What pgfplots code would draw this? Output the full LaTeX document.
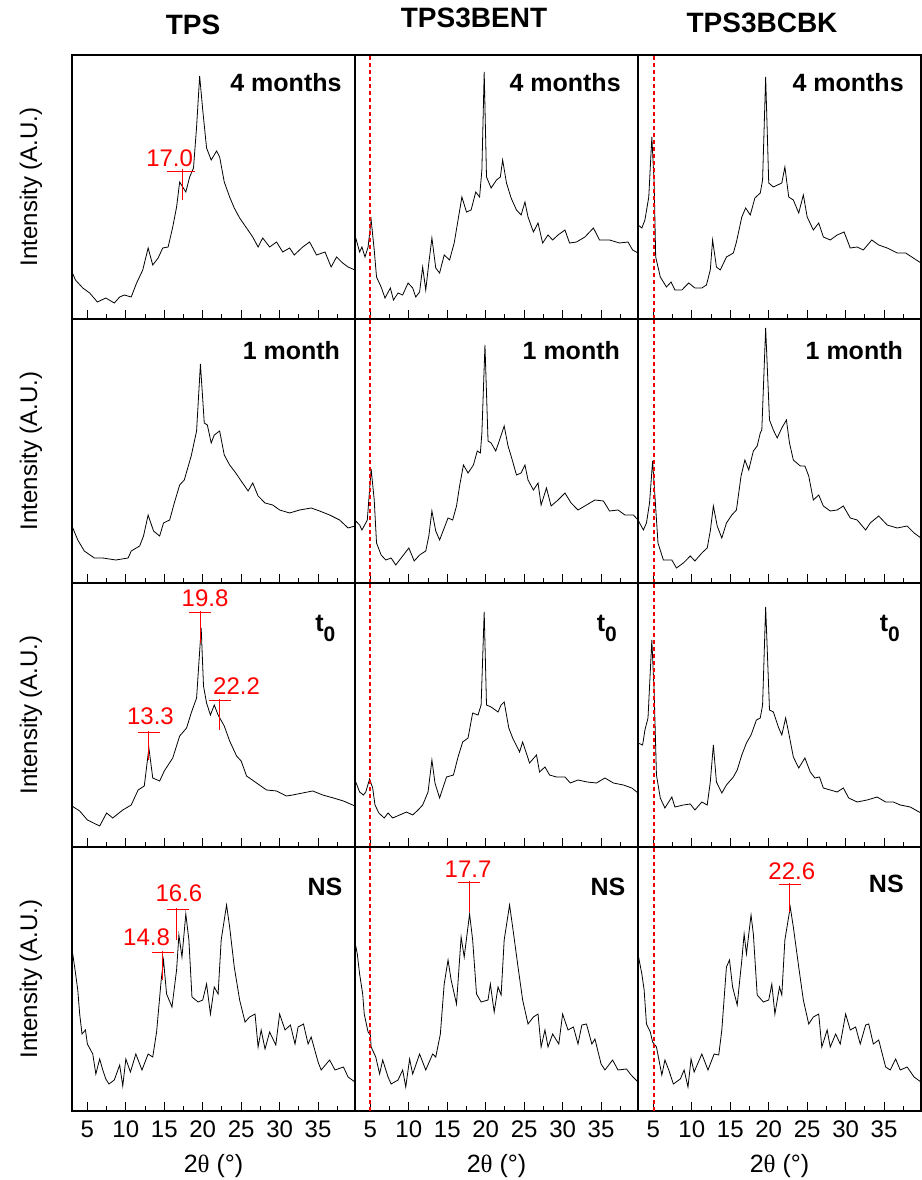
\documentclass[border=0pt]{standalone}
\usepackage{fontspec}
\setmainfont{Liberation Sans}
\newfontfamily\greekserif{Liberation Serif}
\usepackage{pgfplots}
\pgfplotsset{compat=1.18}

% one XRD panel
\pgfplotsset{
  xrd/.style={
    scale only axis, width=141.5pt, height=132pt,
    anchor=south west, clip=false,
    xmin=3, xmax=39.8, ymin=0, ymax=264,
    xtick={5,10,...,35}, minor xtick={7.5,12.5,...,37.5},
    ytick=\empty,
    xtick pos=bottom, ytick pos=left, tick align=inside,
    major tick length=4.5pt, minor tick length=2.5pt,
    every tick/.style={black, line width=0.5pt},
    axis line style={line width=0.6pt},
    /pgf/number format/assume math mode=true,
    tick label style={font=\fontsize{12}{14}\selectfont},
    xticklabel style={yshift=-1.5pt},
    cycle list={{black, mark=none, line width=0.5pt}},
    no markers,
  },
  inner/.style={xticklabels={}},
}
\definecolor{dotred}{RGB}{240,0,0}
\newcommand\plab[3]{\node[anchor=base east, inner sep=0pt,
  font=\bfseries\fontsize{12.5}{14}\selectfont] at (axis cs:#1,#2) {#3};}
\newcommand\tzero{t\raisebox{-5pt}{\fontsize{10.5}{12}\selectfont 0}}
\newcommand\pk[9]{\draw[red, line width=0.5pt] (axis cs:#1,#3) -- (axis cs:#2,#3)
  (axis cs:#4,#5) -- (axis cs:#4,#6);
  \node[red, anchor=base, inner sep=0pt, font=\fontsize{12}{14}\selectfont]
  at (axis cs:#7,#8) {#9};}
% dotted marker line at 2theta = 5
\newcommand\redline[1][5]{\addplot[dotred, mark=none, line width=1pt,
  dash pattern=on 2pt off 1.5pt] coordinates {(#1,0) (#1,264)};}

\begin{document}
\begin{tikzpicture}
\path[use as bounding box] (0,0) rectangle (461pt,590pt);

% ---------------- row 1: 4 months ----------------
\begin{axis}[xrd, inner, at={(36pt,430.5pt)}, minor ytick={26,78,130,182,234}]
\addplot coordinates {(3.0,47)(3.45,39)(4.4,31)(5.3,26)(6.3,17)(7.4,21)(8.5,16)(9.2,22)(9.8,24)(10.7,22)(11.4,36)(12.2,49)(12.9,71)(13.5,54)(14.2,61)(14.8,71)(15.5,72)(16.1,92)(16.6,112)(17.0,137)(17.8,127)(18.3,142)(18.8,151)(19.2,192)(19.6,243)(20.0,209)(20.5,171)(21.1,159)(21.8,168)(22.2,162)(22.8,137)(23.5,122)(24.1,111)(24.8,101)(25.7,91)(26.5,82)(27.2,72)(27.8,81)(28.7,72)(29.6,77)(30.4,67)(31.3,71)(31.9,64)(33.0,72)(33.9,77)(34.8,64)(35.9,67)(36.7,52)(37.4,62)(38.2,56)(38.9,52)(39.8,49)};
\plab{38.1}{227}{4 months}
\pk{15.3}{19.0}{147}{17.4}{150}{119}{15.7}{152}{17.0}
\end{axis}

\begin{axis}[xrd, inner, at={(177.5pt,430.5pt)}, minor ytick={26,73,121,168,216}]
\addplot coordinates {(3.1,81)(3.6,67)(3.9,72)(4.3,62)(4.7,72)(5.1,99)(5.5,69)(5.8,42)(6.4,32)(6.9,21)(7.6,31)(8.0,19)(8.6,26)(9.2,24)(9.9,36)(10.5,31)(10.9,22)(11.4,27)(11.8,52)(12.2,29)(12.6,56)(13.0,81)(13.5,51)(14.0,46)(14.6,64)(15.3,59)(15.9,76)(16.4,99)(16.9,122)(17.5,107)(18.1,109)(18.7,127)(19.2,122)(19.5,149)(19.8,247)(20.1,142)(20.7,131)(21.4,139)(21.9,142)(22.2,159)(22.7,136)(23.3,121)(24.0,109)(24.6,104)(25.1,117)(25.5,102)(26.2,87)(26.8,96)(27.4,76)(28.1,84)(28.7,79)(29.4,84)(30.3,89)(30.9,76)(31.8,77)(32.9,82)(34.0,91)(34.8,79)(36.1,79)(37.4,76)(38.5,77)(39.1,69)(39.8,66)};
\redline
\plab{37.6}{227}{4 months}
\end{axis}

\begin{axis}[xrd, inner, at={(319pt,430.5pt)}, minor ytick={24,72,121,169,217}]
\addplot coordinates {(3.0,94)(3.5,91)(3.9,99)(4.4,122)(4.8,182)(5.1,136)(5.3,62)(5.9,42)(6.7,32)(7.3,37)(7.8,29)(8.7,29)(9.6,36)(10.4,31)(11.3,31)(11.9,34)(12.4,49)(12.7,79)(13.2,52)(13.7,49)(14.5,62)(15.4,66)(15.8,77)(16.5,102)(17.0,111)(17.6,104)(18.2,121)(18.9,126)(19.2,139)(19.6,242)(20.0,136)(20.6,132)(21.7,136)(22.1,152)(22.6,122)(23.2,119)(23.9,106)(24.5,124)(25.0,102)(25.8,89)(26.5,96)(27.1,82)(28.0,79)(28.9,84)(29.8,87)(30.6,71)(31.5,72)(32.3,69)(33.4,79)(34.3,74)(35.4,71)(36.7,66)(37.8,66)(38.6,62)(39.8,56)};
\redline[5.05]
\plab{37.6}{227}{4 months}
\end{axis}

% ---------------- row 2: 1 month ----------------
\begin{axis}[xrd, inner, at={(36pt,298.5pt)}, minor ytick={33,100,165,232}]
\addplot coordinates {(3.0,57)(3.75,43)(4.6,32)(5.9,25)(7.0,25)(8.7,23)(10.3,25)(10.7,32)(11.8,37)(12.3,47)(12.9,68)(13.6,52)(14.4,47)(14.9,60)(15.7,63)(16.3,80)(17.0,98)(17.6,103)(18.5,127)(19.2,152)(19.7,219)(20.2,160)(20.6,158)(21.1,140)(21.5,148)(22.2,152)(22.8,128)(23.5,118)(24.3,110)(25.0,102)(25.9,92)(26.5,100)(27.2,87)(28.1,80)(29.1,78)(30.0,73)(31.3,70)(32.6,73)(34.1,75)(35.2,72)(36.5,68)(37.8,63)(38.9,55)(39.8,57)};
\plab{37.9}{223}{1 month}
\end{axis}

\begin{axis}[xrd, inner, at={(177.5pt,298.5pt)}, minor ytick={22,65,110,153,198,242}]
\addplot coordinates {(3.1,62)(3.6,58)(3.9,53)(4.6,63)(5.1,114)(5.5,83)(5.8,40)(6.4,28)(7.0,23)(7.7,25)(8.3,18)(9.2,27)(10.0,35)(10.7,22)(11.4,28)(12.2,32)(12.6,47)(13.0,72)(13.5,52)(14.0,43)(14.5,53)(15.1,65)(15.7,63)(16.2,77)(16.6,97)(17.1,118)(17.7,110)(18.4,118)(18.9,132)(19.3,130)(19.5,150)(19.9,238)(20.3,142)(20.7,140)(21.3,132)(21.8,143)(22.4,157)(22.9,137)(23.3,127)(24.0,108)(24.6,110)(25.1,118)(25.5,103)(26.2,93)(26.8,100)(27.2,78)(27.9,95)(28.5,77)(29.4,83)(30.3,90)(31.1,80)(32.0,73)(33.1,78)(34.2,83)(35.3,82)(36.1,72)(37.2,73)(38.1,68)(39.2,68)(39.8,63)};
\redline
\plab{37.5}{223}{1 month}
\end{axis}

\begin{axis}[xrd, inner, at={(319pt,298.5pt)}, minor ytick={50,122,193}]
\addplot coordinates {(3.0,63)(3.7,53)(4.1,60)(4.5,80)(4.9,122)(5.2,87)(5.6,40)(6.3,23)(7.4,23)(8.0,15)(8.9,20)(9.8,27)(10.4,22)(11.3,30)(12.0,35)(12.4,52)(12.8,77)(13.3,57)(13.9,45)(14.5,60)(15.2,68)(15.8,73)(16.4,107)(16.9,123)(17.4,113)(18.0,132)(18.5,137)(18.9,150)(19.1,153)(19.6,255)(20.1,163)(20.6,153)(21.1,145)(21.7,155)(22.3,163)(22.7,140)(23.2,123)(24.1,117)(24.7,117)(25.2,107)(25.8,83)(26.5,88)(27.1,77)(28.0,72)(28.9,73)(29.7,77)(30.6,65)(31.5,63)(32.6,53)(33.2,60)(34.3,67)(35.4,58)(36.7,55)(38.0,57)(38.9,50)(39.8,45)};
\redline[5.05]
\plab{37.5}{223}{1 month}
\end{axis}

% ---------------- row 3: t0 ----------------
\begin{axis}[xrd, inner, at={(36pt,166.5pt)}, minor ytick={29,81,132,184,237}]
\addplot coordinates {(3.0,41)(4.0,36)(5.0,27)(6.6,21)(7.5,34)(8.3,29)(9.6,37)(10.7,42)(11.6,57)(12.4,61)(13.0,99)(13.5,69)(14.4,66)(15.0,76)(16.1,89)(17.0,111)(17.9,119)(18.5,134)(19.2,149)(19.8,219)(20.1,161)(20.5,144)(21.0,132)(21.5,142)(22.0,132)(22.8,121)(23.5,106)(24.4,91)(25.0,86)(25.7,71)(27.0,64)(28.3,57)(29.6,56)(30.9,51)(31.7,52)(33.0,54)(34.3,56)(35.6,52)(37.0,49)(38.3,46)(39.8,41)};
\plab{37.3}{215}{\tzero}
\pk{11.6}{14.5}{114}{13.0}{116}{87}{13.2}{122}{13.3}
\pk{18.2}{21.1}{234}{19.7}{236}{204}{20.3}{240}{19.8}
\pk{20.8}{23.7}{146}{22.2}{148}{117}{24.4}{152}{22.2}
\end{axis}

\begin{axis}[xrd, inner, at={(177.5pt,166.5pt)}, minor ytick={64,125,189,252}]
\addplot coordinates {(3.1,65)(3.6,55)(4.1,52)(4.4,55)(4.9,68)(5.3,59)(5.6,42)(6.1,34)(6.8,29)(7.3,34)(7.9,29)(8.8,32)(9.7,35)(10.5,32)(11.2,37)(11.8,42)(12.5,55)(13.0,87)(13.4,64)(14.0,49)(14.9,70)(15.8,72)(16.4,90)(17.0,105)(17.7,109)(18.3,134)(19.0,132)(19.4,142)(19.8,235)(20.1,142)(20.7,140)(21.6,135)(22.0,142)(22.4,145)(23.0,119)(23.5,109)(24.4,95)(24.8,105)(25.7,84)(26.6,92)(27.0,75)(27.7,80)(28.3,72)(29.2,70)(30.3,70)(31.0,64)(32.0,67)(33.2,65)(34.4,64)(35.5,69)(36.6,64)(37.9,62)(39.0,59)(39.8,54)};
\redline
\plab{37.1}{215}{\tzero}
\end{axis}

\begin{axis}[xrd, inner, at={(319pt,166.5pt)}, minor ytick={29,87,145,205}]
\addplot coordinates {(3.0,104)(3.6,102)(3.9,117)(4.3,129)(4.8,207)(5.1,155)(5.4,72)(5.9,49)(6.5,39)(7.4,50)(7.8,40)(8.9,42)(9.8,43)(10.4,37)(11.3,45)(12.0,42)(12.4,65)(12.8,102)(13.2,65)(13.9,54)(14.5,62)(15.4,70)(15.9,77)(16.5,92)(17.1,104)(17.7,112)(18.4,127)(18.9,129)(19.2,142)(19.6,240)(20.1,137)(20.6,135)(21.3,119)(21.7,112)(22.2,129)(22.6,114)(23.2,90)(23.9,79)(24.7,89)(25.4,75)(26.0,69)(26.6,70)(27.1,59)(28.0,57)(28.9,55)(29.7,59)(30.4,49)(31.5,45)(32.8,47)(34.1,50)(35.2,45)(36.2,45)(37.1,42)(38.4,40)(39.8,34)};
\redline[5.05]
\plab{37.1}{215}{\tzero}
\end{axis}

% ---------------- row 4: NS ----------------
\begin{axis}[xrd, at={(36pt,34.5pt)}, minor ytick={66,197}]
\addplot coordinates {(3.0,162)(3.4,141)(3.75,121)(4.0,97)(4.3,77)(4.75,81)(5.0,67)(5.7,57)(6.1,37)(6.6,52)(7.0,41)(7.4,32)(7.8,27)(8.5,31)(9.2,46)(9.6,25)(10.0,52)(10.6,39)(11.3,57)(12.1,41)(12.9,57)(13.5,54)(14.0,79)(14.6,131)(14.9,151)(15.3,117)(16.0,104)(16.6,141)(16.9,176)(17.3,154)(17.8,197)(18.2,171)(18.6,114)(19.4,109)(20.0,111)(20.5,127)(21.0,97)(21.5,124)(22.0,117)(22.4,171)(23.1,206)(23.5,184)(24.1,144)(24.8,111)(25.5,89)(26.1,94)(26.8,97)(27.2,64)(27.6,81)(28.1,62)(28.7,79)(29.5,66)(30.0,97)(30.7,81)(31.4,86)(32.0,67)(32.4,84)(33.1,87)(33.7,67)(34.1,74)(35.0,49)(35.4,41)(36.5,51)(37.2,41)(38.3,44)(38.9,34)(39.8,29)};
\plab{38.2}{215}{NS}
\pk{13.4}{16.3}{158}{14.8}{160}{131}{12.7}{165}{14.8}
\pk{15.3}{18.2}{201}{16.6}{203}{171}{16.9}{209}{16.6}
\end{axis}

\begin{axis}[xrd, at={(177.5pt,34.5pt)}, minor ytick={66,197}]
\addplot coordinates {(3.1,165)(3.3,157)(3.6,137)(4.0,117)(4.2,97)(4.7,79)(5.0,76)(5.1,64)(5.7,54)(6.2,37)(6.6,51)(7.3,34)(7.7,27)(8.6,31)(9.2,41)(9.6,24)(10.1,52)(10.5,37)(11.4,57)(12.2,41)(13.1,57)(13.5,54)(14.1,77)(14.6,127)(15.1,151)(15.5,131)(16.2,107)(16.8,174)(17.2,154)(17.9,197)(18.3,171)(18.8,117)(19.4,109)(20.3,111)(20.6,127)(21.1,99)(21.6,124)(22.0,116)(22.4,171)(23.1,206)(23.5,184)(24.2,144)(24.8,111)(25.5,87)(26.2,94)(26.8,97)(27.2,64)(27.7,81)(28.1,64)(28.7,77)(29.5,67)(30.0,97)(30.7,81)(31.4,84)(32.0,67)(32.5,86)(33.1,87)(33.8,67)(34.2,72)(35.0,47)(35.5,41)(36.5,51)(37.2,41)(38.3,42)(38.9,36)(39.8,29)};
\redline
\plab{38.2}{215}{NS}
\pk{16.4}{19.3}{228}{17.9}{230}{199}{17.7}{233}{17.7}
\end{axis}

\begin{axis}[xrd, at={(319pt,34.5pt)}, minor ytick={66,199}]
\addplot coordinates {(3.0,157)(3.5,137)(3.8,121)(4.1,87)(4.6,79)(4.9,69)(5.4,64)(6.1,36)(6.5,51)(7.0,41)(7.6,27)(8.5,32)(9.0,41)(9.5,24)(9.9,52)(10.3,39)(11.3,57)(12.1,41)(12.9,57)(13.5,56)(13.9,81)(14.5,144)(14.9,151)(15.3,124)(15.9,106)(16.5,151)(16.8,177)(17.1,157)(17.7,196)(18.0,177)(18.5,116)(19.3,109)(20.0,111)(20.4,127)(20.8,97)(21.4,124)(21.7,116)(22.1,171)(22.8,204)(23.2,184)(23.9,144)(24.5,111)(25.2,87)(25.8,94)(26.5,97)(26.9,64)(27.6,81)(28.0,64)(28.7,77)(29.3,67)(30.0,97)(30.6,81)(31.3,84)(31.9,67)(32.6,86)(33.0,87)(33.6,67)(34.3,71)(35.2,44)(35.8,41)(36.5,52)(37.1,41)(38.0,44)(38.9,34)(39.8,29)};
\redline[5.05]
\plab{37.6}{218}{NS}
\pk{21.3}{24.2}{226}{22.7}{228}{199}{23.0}{231}{22.6}
\end{axis}

% column titles, axis titles
\begin{scope}[every node/.style={inner sep=0pt}]
\node[anchor=base, font=\bfseries\fontsize{14}{16}\selectfont] at (96.5pt,572.5pt) {TPS};
\node[anchor=base, font=\bfseries\fontsize{14}{16}\selectfont] at (237pt,576pt) {TPS3BENT};
\node[anchor=base, font=\bfseries\fontsize{14}{16}\selectfont] at (381pt,573.5pt) {TPS3BCBK};
\foreach \yc in {496.5,364.5,232.5,100.5}
  \node[rotate=90, font=\fontsize{12}{14}\selectfont] at (15.5pt,\yc pt) {Intensity (A.U.)};
\foreach \xc in {106.75,248.25,389.75}
  \node[anchor=base, font=\fontsize{12.5}{14}\selectfont] at (\xc pt,3.5pt) {2{\greekserif θ} (°)};
\end{scope}
\end{tikzpicture}
\end{document}
